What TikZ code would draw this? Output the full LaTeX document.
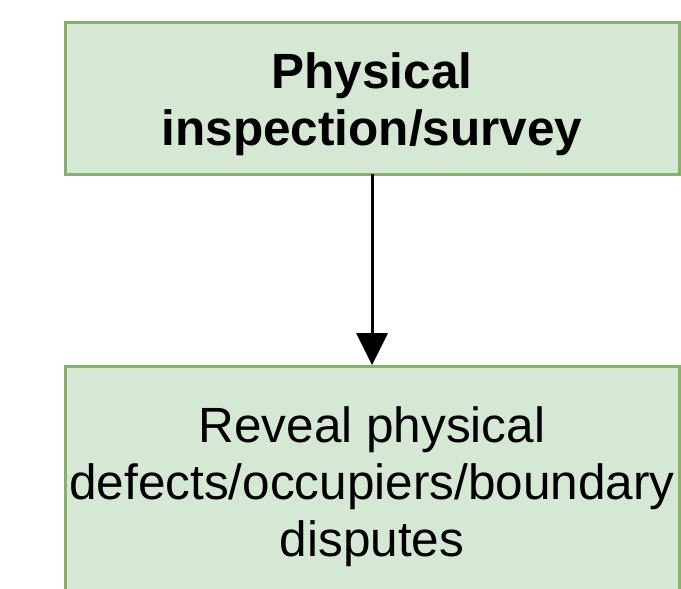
\documentclass[tikz,border=0pt]{standalone}
\usepackage{fontspec}
\setmainfont{Liberation Sans}
\definecolor{boxfill}{HTML}{D5E8D4}
\definecolor{boxline}{HTML}{82B366}
\begin{document}
\begin{tikzpicture}[x=1pt,y=-1pt,
  greenbox/.style={draw=boxline,fill=boxfill,line width=3pt},
  boxtext/.style={align=center,font=\fontsize{49.5}{57}\selectfont,inner sep=0pt}]
\useasboundingbox (0,0) rectangle (681,589);
\clip (0,0) rectangle (681,589);
\draw[greenbox] (65,22) rectangle (679,174);
\draw[greenbox] (65,366) rectangle (679,640);
\node[boxtext,font=\fontsize{49.5}{57}\selectfont\bfseries] (top) at (372,104) {Physical\\inspection/survey};
\node[boxtext] (bot) at (372,487) {Reveal physical\\defects/occupiers/boundary\\disputes};
\coordinate (a1) at (372,174);
\coordinate (a2) at (372,365);
\draw[line width=3pt] (a1) -- (372,335);
\fill (a2) -- (356,333) -- (388,333) -- cycle;
\end{tikzpicture}
\end{document}
